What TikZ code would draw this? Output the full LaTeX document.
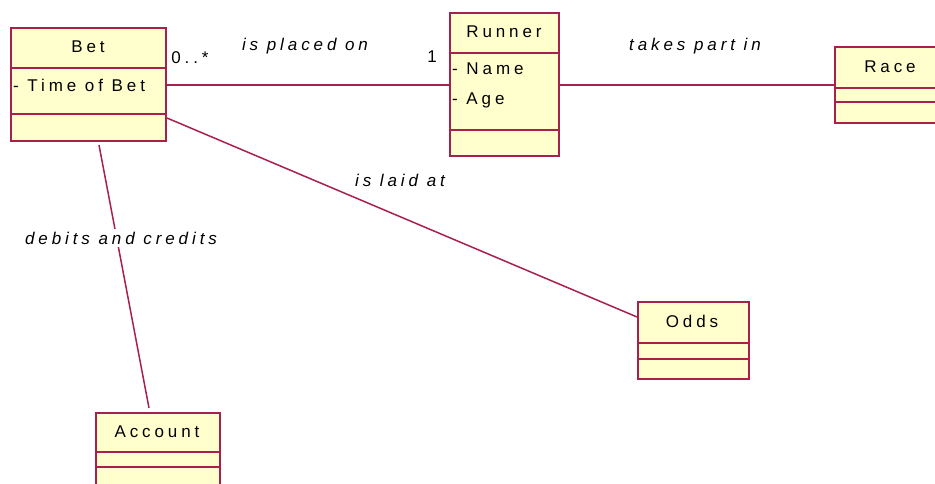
\documentclass[tikz,border=0pt]{standalone}
\usepackage{fontspec}
\setmainfont{Liberation Sans}[LetterSpace=23]
\definecolor{umlline}{RGB}{168,32,78}
\definecolor{umlfill}{RGB}{255,255,206}
\tikzset{
  classbox/.style={draw=umlline, fill=umlfill, line width=1.6pt, rectangle, anchor=north west, inner sep=0pt},
  divider/.style={draw=umlline, line width=1.6pt},
  assoc/.style={draw=umlline, line width=1.5pt},
  cname/.style={font=\fontsize{17}{20}\selectfont, inner sep=0pt},
  attr/.style={font=\fontsize{17}{20}\selectfont, inner sep=0pt, anchor=west},
  rolelabel/.style={font=\fontsize{17}{20}\selectfont\itshape, inner sep=3pt},
  mult/.style={font=\fontsize{17}{20}\selectfont, inner sep=0pt},
}
\begin{document}
\begin{tikzpicture}[x=1pt,y=-1pt]
\useasboundingbox (0,0) rectangle (935,484);
% Bet
\node[classbox, minimum width=155pt, minimum height=113pt] (bet) at (10,27) {};
\draw[divider] (10,68) -- (165,68);
\draw[divider] (10,114) -- (165,114);
\node[cname] (betn) at (88,47) {Bet};
\node[attr] (beta) at (13,85) {- Time of Bet};
% Runner
\node[classbox, minimum width=109pt, minimum height=143pt] (runner) at (449,12) {};
\draw[divider] (449,53) -- (558,53);
\draw[divider] (449,130) -- (558,130);
\node[cname] (runnern) at (504,32) {Runner};
\node[attr] (runnera) at (452,69) {- Name};
\node[attr] (runnerb) at (452,100) {- Age};
% Race
\node[classbox, minimum width=112pt, minimum height=76pt] (race) at (834,46) {};
\draw[divider] (834,88) -- (946,88);
\draw[divider] (834,102) -- (946,102);
\node[cname] (racen) at (890,67) {Race};
% Odds
\node[classbox, minimum width=111pt, minimum height=77pt] (odds) at (637,301) {};
\draw[divider] (637,343) -- (748,343);
\draw[divider] (637,359) -- (748,359);
\node[cname] (oddsn) at (692,321) {Odds};
% Account
\node[classbox, minimum width=124pt, minimum height=90pt] (account) at (95,412) {};
\draw[divider] (95,452) -- (219,452);
\draw[divider] (95,467) -- (219,467);
\node[cname] (accountn) at (157,432) {Account};
% connection points
\coordinate (betR) at (165,85);
\coordinate (runL) at (449,85);
\coordinate (runR) at (558,85);
\coordinate (raceL) at (834,85);
\coordinate (betO) at (167,118);
\coordinate (oddsL) at (637,317);
\coordinate (betB) at (99,145);
\coordinate (accT) at (149,408);
% associations
\draw[assoc] (betR) -- (runL);
\draw[assoc] (runR) -- (raceL);
\draw[assoc] (betO) -- (oddsL);
\draw[assoc] (betB) -- (accT);
% labels
\node[mult] (m1) at (190,58) {0..*};
\node[rolelabel] (l1) at (305,46) {is placed on};
\node[mult] (m2) at (432,57) {1};
\node[rolelabel] (l2) at (695,46) {takes part in};
\node[rolelabel] (l3) at (400,180) {is laid at};
\node[rolelabel, fill=white] (l4) at (121,238) {debits and credits};
\end{tikzpicture}
\end{document}
